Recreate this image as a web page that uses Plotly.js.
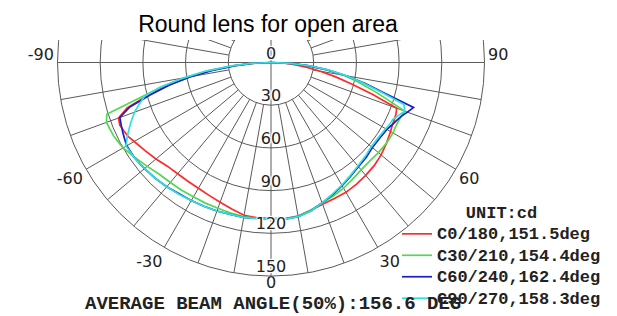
<!DOCTYPE html>
<html><head><meta charset="utf-8">
<script src="https://cdn.plot.ly/plotly-3.0.1.min.js"></script>
<style>
html,body{margin:0;padding:0;width:617px;height:316px;overflow:hidden;background:#fff;}
#chart{position:absolute;left:0;top:-152px;width:617px;height:468px;}
</style></head><body><div id="chart"></div>
<script>
// Angles (deg) of the photometric curves: 0 = nadir, -90 / 90 = horizontal
const theta = [-90,-87.5,-85,-82.5,-80,-77.5,-75,-72.5,-70,-67.5,-65,-62.5,-60,-55,-50,-45,-40,-35,-30,-25,-20,-15,-10,-5,0,5,10,15,20,25,30,35,40,45,50,55,60,62.5,65,67.5,70,72.5,75,77.5,80,82.5,85,87.5,90];
// Intensities (cd)
const c0_180 = [0,13,26,42,58,74,90,106,114,115,114,113,111,108,105.5,103,102,101.8,102,103,104.5,106.5,109,109.5,109.5,110,109.5,107.5,106,105.5,105.3,104.5,103.5,102.5,101,99,97,96,95.5,95,94,75,59,46.6,34.6,25,16.6,8.3,0];
const c30_210 = [0,14,28,45,62,78,95,121,123,122.5,122,121,120,116.5,113.5,111,110,109.5,109,109,109,109.5,110,110,110,110.5,109.5,107.5,105,103.5,102,100,98.5,98,98.5,99,99,98.5,98.5,99,100,85,73,62,52,39,27,14,0];
const c60_240 = [0,12,25,41,58,73,88,104,113,114,115,116,117,117,116,115,114,112.5,112,111.5,111,110.5,110.5,110,110,110.5,110,108,105,102.5,100,97.5,95.5,94.5,93,93,94,95.5,97,99,102,105,82,67.5,53.6,40,27,14,0];
const c90_270 = [0,14,29,46,62,80,92,97,102,106,110,114,117.5,117,116,115,114,113,112,111.5,111,110.5,110.5,110,110,110.5,110,108,105,102,99.5,97,95,93.5,92,92,93,94,94.5,97,100,98,80,66,54,41,28,14,0];
const seriesNames = ['C0/180,151.5deg','C30/210,154.4deg','C60/240,162.4deg','C90/270,158.3deg'];
const seriesColors = ['#ff2a2a','#52d852','#1c1cc8','#30e0e0'];
const radialTicks = [0,30,60,90,120,150];
// angular labels drawn by the angular axis (the +-90 labels sit just above the horizontal, as in the original)
const axisAngleTicks = [268,300,330,30,60,92];
const axisAngleText = ['-90','-60','-30','30','60','90'];
// nadir label
const nadirTick = [0];
const nadirText = ['0'];
const spokeStep = 10;
const gridInner = 30, gridOuter = 150;
const unitLabel = 'UNIT:cd';
const caption = 'AVERAGE BEAM ANGLE(50%):156.6 DEG';
const titleText = 'Round lens for open area';

// grid spokes (every 10 deg, from r=30 outward) + the two diameters
const gr = [], gt = [];
for (let a = -180 + spokeStep; a <= 180; a += spokeStep) {
  if (a % 90 === 0) continue;
  gr.push(gridInner, gridOuter, null); gt.push(a, a, null);
}
gr.push(gridOuter, gridOuter, null, gridOuter, gridOuter); gt.push(-90, 90, null, 0, 180);

const gridCol = '#5a5a5a';
const halo = '1px 1px 1px #fff, -1px -1px 1px #fff, 1px -1px 1px #fff, -1px 1px 1px #fff, 0 0 2px #fff';
const labelFont = {family:'DejaVu Sans', size:16, color:'#222'};
const traces = [{
  type:'scatterpolar', mode:'lines', r:gr, theta:gt, connectgaps:false,
  line:{color:gridCol, width:1}, showlegend:false, hoverinfo:'skip'
}];
[c0_180, c30_210, c60_240, c90_270].forEach((s, i) => {
  traces.push({type:'scatterpolar', mode:'lines', r:s, theta:theta,
    name:'<span style="font-size:17px">' + seriesNames[i] + '</span>',
    line:{color:seriesColors[i], width:1.7}});
});
// radial tick labels, written along the nadir line
traces.push({type:'scatterpolar', mode:'text', r:radialTicks, theta:radialTicks.map(() => 0),
  text:radialTicks.map(String), textposition:'top center', showlegend:false, hoverinfo:'skip',
  textfont:Object.assign({shadow:halo}, labelFont)});
traces.push({type:'scatterpolar', mode:'text', r:nadirTick.map(() => gridOuter), theta:nadirTick,
  text:nadirText, textposition:'bottom center',
  showlegend:false, hoverinfo:'skip', textfont:labelFont, cliponaxis:false});

const H = 468, off = 152;
const layout = {
  width:617, height:H, margin:{l:0,r:0,t:0,b:0,autoexpand:false}, paper_bgcolor:'#fff', showlegend:true,
  title:{text:titleText, font:{family:'Liberation Sans, Arial', size:23, color:'#000'},
    x:268/617, xanchor:'center', xref:'paper', y:1-(off+24)/H, yanchor:'middle', yref:'container'},
  polar:{
    domain:{x:[57.5/617, 484.5/617], y:[(H-428)/H, (H-1)/H]},
    bgcolor:'#fff',
    radialaxis:{range:[0,150], tickvals:[30,60,90,120], showticklabels:false, ticks:'',
      showline:false, gridcolor:gridCol, gridwidth:1},
    angularaxis:{rotation:270, direction:'counterclockwise', tickvals:axisAngleTicks, ticktext:axisAngleText,
      showgrid:false, ticks:'', showline:true, linecolor:gridCol, linewidth:1, tickfont:labelFont}
  },
  legend:{x:397/617, xanchor:'left', y:1-(off+196)/H, yanchor:'top', bgcolor:'rgba(0,0,0,0)',
    font:{family:'Liberation Mono', size:14.2, weight:'bold', color:'#222'},
    title:{text:unitLabel, side:'top center', font:{family:'Liberation Mono', size:17, weight:'bold', color:'#222'}},
    itemwidth:30, tracegroupgap:0},
  shapes:[{type:'rect', xref:'paper', yref:'paper', x0:0, x1:1, y0:1-(off+40)/H, y1:1,
    fillcolor:'#fff', line:{width:0}, layer:'above'}],
  annotations:[{text:caption, xref:'paper', yref:'paper', x:272.5/617, y:(H-(off+303.5))/H,
    xanchor:'center', yanchor:'middle', showarrow:false,
    font:{family:'Liberation Mono', size:19, weight:'bold', color:'#222'}}]
};
Plotly.newPlot('chart', traces, layout, {displayModeBar:false, staticPlot:true});
</script></body></html>
